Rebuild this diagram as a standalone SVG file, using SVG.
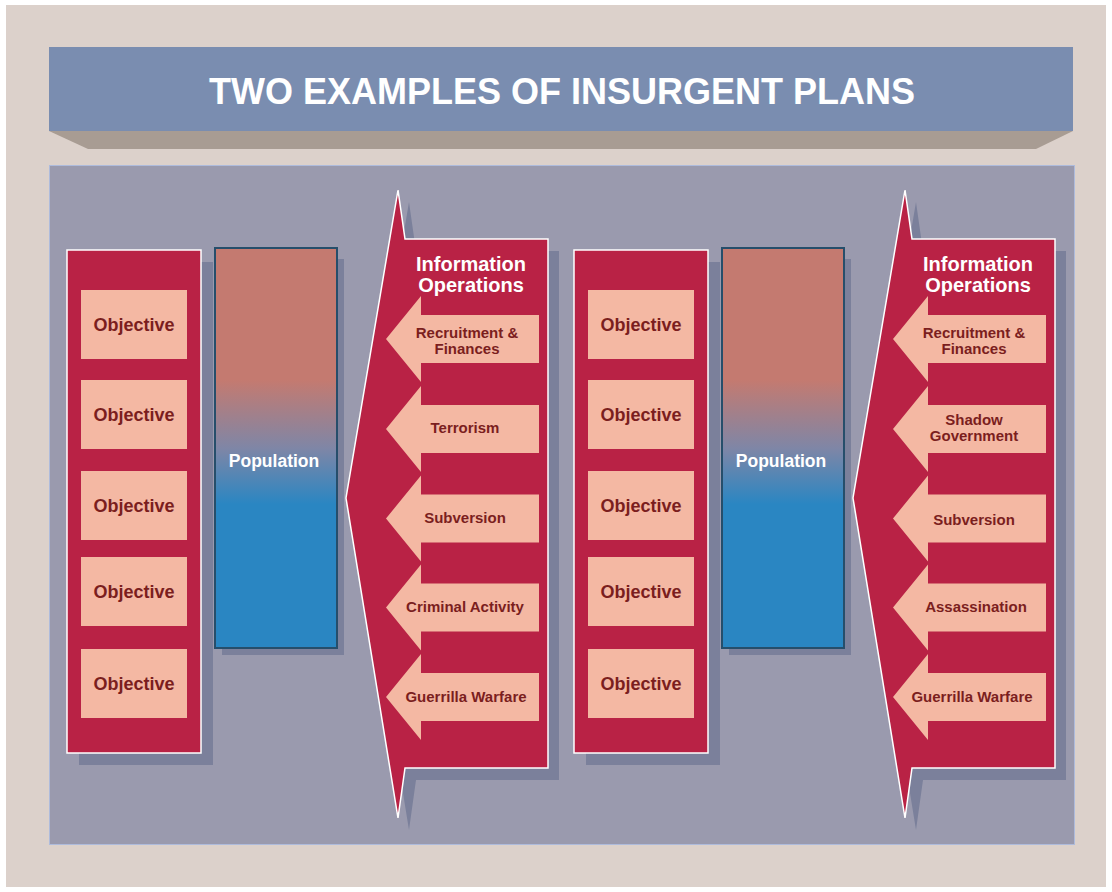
<svg xmlns="http://www.w3.org/2000/svg" xmlns:xlink="http://www.w3.org/1999/xlink" width="1112" height="892" viewBox="0 0 1112 892">
<style>
.red{fill:#b92245;stroke:#ffffff;stroke-width:1.5}
.shd{fill:#7b809b}
.pink{fill:#f4b8a3}
.obj{font-family:"Liberation Sans",Arial,sans-serif;font-weight:bold;font-size:18px;fill:#7b1e1e;text-anchor:middle}
.lbl{font-family:"Liberation Sans",Arial,sans-serif;font-weight:bold;font-size:15px;fill:#7b1e1e;text-anchor:middle}
.wt{font-family:"Liberation Sans",Arial,sans-serif;font-weight:bold;fill:#ffffff;text-anchor:middle}
</style>
<defs>
<linearGradient id="popg" x1="0" y1="0" x2="0" y2="1">
<stop offset="0" stop-color="#c47a70"/>
<stop offset="0.33" stop-color="#c47a70"/>
<stop offset="0.5" stop-color="#7f86a6"/>
<stop offset="0.64" stop-color="#2a86c2"/>
<stop offset="1" stop-color="#2a86c2"/>
</linearGradient>
<path id="arrow" d="M386,0 L421,-43 L421,-24 L539,-24 L539,24 L421,24 L421,43 Z"/>
<rect id="objbox" x="81" y="0" width="106" height="69"/>
</defs>
<rect x="0" y="0" width="1112" height="892" fill="#ffffff"/>
<rect x="6" y="5" width="1100" height="882" fill="#dcd1cb"/>
<g id="title">
<polygon points="49,131 88,149 1036,149 1073,131" fill="#a89c93"/>
<rect x="49" y="47" width="1024" height="84" fill="#7a8db0"/>
<text class="wt" x="562" y="104" font-size="36">TWO EXAMPLES OF INSURGENT PLANS</text>
</g>
<rect id="panel" x="49.5" y="165.5" width="1025" height="679" fill="#9a9aae" stroke="#aebbdc" stroke-width="1"/>

<g id="plan1">
<g id="objectives1">
<rect class="shd" x="79" y="262" width="134" height="503"/>
<rect class="red" x="67" y="250" width="134" height="503"/>
<use xlink:href="#objbox" class="pink" y="290"/><text class="obj" x="134" y="331">Objective</text>
<use xlink:href="#objbox" class="pink" y="380"/><text class="obj" x="134" y="421">Objective</text>
<use xlink:href="#objbox" class="pink" y="471"/><text class="obj" x="134" y="512">Objective</text>
<use xlink:href="#objbox" class="pink" y="557"/><text class="obj" x="134" y="598">Objective</text>
<use xlink:href="#objbox" class="pink" y="649"/><text class="obj" x="134" y="690">Objective</text>
</g>
<g id="population1">
<rect class="shd" x="222" y="259" width="122" height="396"/>
<rect x="215" y="248" width="122" height="400" fill="url(#popg)" stroke="#264e6b" stroke-width="2"/>
<text class="wt" x="274" y="467" font-size="17.5">Population</text>
</g>
<g id="infoops1">
<path class="shd" d="M409,202 L416,251 L559,251 L559,780 L416,780 L409,830 L357,510 Z"/>
<path class="red" d="M398,190 L405,239 L548,239 L548,768 L405,768 L398,818 L346,498 Z"/>
<text class="wt" x="471" y="271" font-size="20">Information</text>
<text class="wt" x="471" y="292" font-size="20">Operations</text>
<use xlink:href="#arrow" class="pink" y="339"/>
<text class="lbl" x="467" y="338">Recruitment &amp;</text>
<text class="lbl" x="467" y="354">Finances</text>
<use xlink:href="#arrow" class="pink" y="429"/>
<text class="lbl" x="465" y="433">Terrorism</text>
<use xlink:href="#arrow" class="pink" y="518.5"/>
<text class="lbl" x="465" y="523">Subversion</text>
<use xlink:href="#arrow" class="pink" y="607.5"/>
<text class="lbl" x="465" y="612">Criminal Activity</text>
<use xlink:href="#arrow" class="pink" y="697"/>
<text class="lbl" x="466" y="702">Guerrilla Warfare</text>
</g>
</g>

<g id="plan2" transform="translate(507,0)">
<g id="objectives2">
<rect class="shd" x="79" y="262" width="134" height="503"/>
<rect class="red" x="67" y="250" width="134" height="503"/>
<use xlink:href="#objbox" class="pink" y="290"/><text class="obj" x="134" y="331">Objective</text>
<use xlink:href="#objbox" class="pink" y="380"/><text class="obj" x="134" y="421">Objective</text>
<use xlink:href="#objbox" class="pink" y="471"/><text class="obj" x="134" y="512">Objective</text>
<use xlink:href="#objbox" class="pink" y="557"/><text class="obj" x="134" y="598">Objective</text>
<use xlink:href="#objbox" class="pink" y="649"/><text class="obj" x="134" y="690">Objective</text>
</g>
<g id="population2">
<rect class="shd" x="222" y="259" width="122" height="396"/>
<rect x="215" y="248" width="122" height="400" fill="url(#popg)" stroke="#264e6b" stroke-width="2"/>
<text class="wt" x="274" y="467" font-size="17.5">Population</text>
</g>
<g id="infoops2">
<path class="shd" d="M409,202 L416,251 L559,251 L559,780 L416,780 L409,830 L357,510 Z"/>
<path class="red" d="M398,190 L405,239 L548,239 L548,768 L405,768 L398,818 L346,498 Z"/>
<text class="wt" x="471" y="271" font-size="20">Information</text>
<text class="wt" x="471" y="292" font-size="20">Operations</text>
<use xlink:href="#arrow" class="pink" y="339"/>
<text class="lbl" x="467" y="338">Recruitment &amp;</text>
<text class="lbl" x="467" y="354">Finances</text>
<use xlink:href="#arrow" class="pink" y="429"/>
<text class="lbl" x="467" y="425">Shadow</text>
<text class="lbl" x="467" y="441">Government</text>
<use xlink:href="#arrow" class="pink" y="518.5"/>
<text class="lbl" x="467" y="525">Subversion</text>
<use xlink:href="#arrow" class="pink" y="607.5"/>
<text class="lbl" x="469" y="612">Assassination</text>
<use xlink:href="#arrow" class="pink" y="697"/>
<text class="lbl" x="465" y="702">Guerrilla Warfare</text>
</g>
</g>
</svg>
